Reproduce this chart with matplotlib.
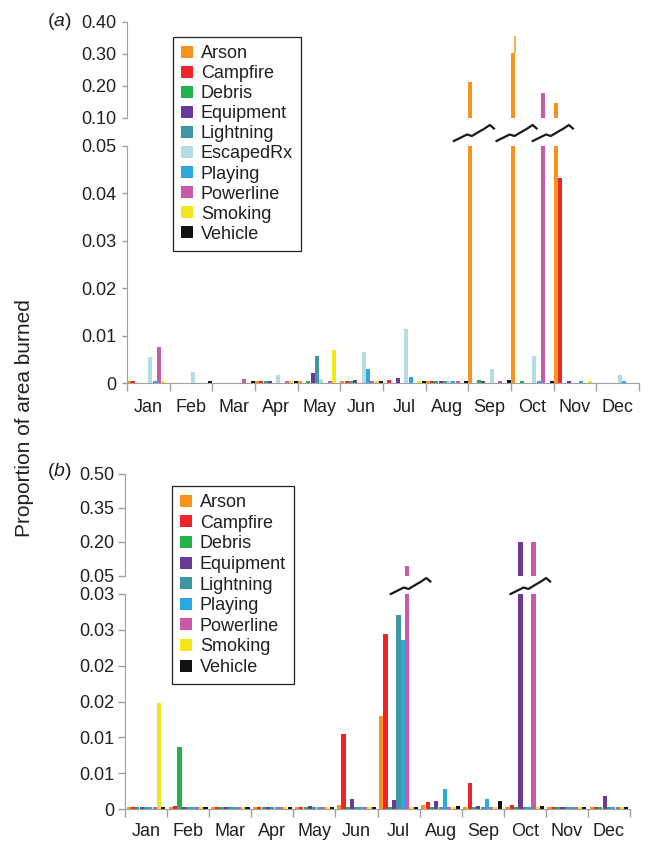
import matplotlib
matplotlib.use('Agg')
import matplotlib.pyplot as plt
import numpy as np
from matplotlib.patches import Patch
from matplotlib.lines import Line2D
from matplotlib.transforms import blended_transform_factory

plt.rcParams['font.family'] = ['Liberation Sans', 'DejaVu Sans']
plt.rcParams['mathtext.fontset'] = 'custom'
plt.rcParams['mathtext.rm'] = 'Liberation Sans'
plt.rcParams['mathtext.it'] = 'Liberation Sans:italic'

# ---------------- data ----------------
months = ['Jan', 'Feb', 'Mar', 'Apr', 'May', 'Jun', 'Jul', 'Aug', 'Sep', 'Oct', 'Nov', 'Dec']

causes_a = ['Arson', 'Campfire', 'Debris', 'Equipment', 'Lightning', 'EscapedRx',
            'Playing', 'Powerline', 'Smoking', 'Vehicle']
causes_b = ['Arson', 'Campfire', 'Debris', 'Equipment', 'Lightning',
            'Playing', 'Powerline', 'Smoking', 'Vehicle']

colors = {
    'Arson': '#F7941E', 'Campfire': '#EE2429', 'Debris': '#22B24C',
    'Equipment': '#6A3A96', 'Lightning': '#3D96A2', 'EscapedRx': '#B3DCE5',
    'Playing': '#29A9E0', 'Powerline': '#C85AA8', 'Smoking': '#F2E61B',
    'Vehicle': '#111111',
}

# panel (a)
a_arson     = [0.0004, 0, 0, 0.0004, 0.0004, 0.0004, 0, 0.0004, 0.213, 0.302, 0.148, 0]
a_campfire  = [0.0004, 0, 0, 0.0004, 0, 0.0004, 0.0007, 0.0004, 0, 0, 0.0432, 0]
a_debris    = [0, 0, 0, 0.0004, 0.0004, 0.0004, 0, 0.0004, 0.0007, 0.0004, 0, 0]
a_equipment = [0, 0, 0, 0.0004, 0.0021, 0.0007, 0.0011, 0.0004, 0.0004, 0, 0.0004, 0]
a_lightning = [0, 0, 0, 0, 0.0056, 0, 0, 0.0004, 0, 0, 0, 0]
a_escapedrx = [0.0054, 0.0023, 0, 0.0016, 0.0009, 0.0066, 0.0114, 0.0005, 0.0030, 0.0057, 0, 0.0017]
a_playing   = [0.0004, 0, 0, 0, 0, 0.0029, 0.0012, 0.0004, 0, 0.0004, 0.0004, 0.0004]
a_powerline = [0.0076, 0, 0.0009, 0.0004, 0.0004, 0.0004, 0, 0.0004, 0.0004, 0.179, 0, 0]
a_smoking   = [0.0005, 0, 0, 0.0004, 0.0069, 0.0004, 0.0004, 0, 0, 0, 0.0004, 0]
a_vehicle   = [0, 0.0005, 0.0004, 0.0004, 0, 0.0004, 0.0004, 0.0005, 0.0007, 0.0004, 0, 0]
a_arson_peak = [None, None, None, None, None, None, None, None, None, 0.355, None, None]

# panel (b)
s = 0.0003
b_arson     = [s, s, s, s, s, 0.0005, 0.0130, 0.0005, 0.0003, 0.0003, s, s]
b_campfire  = [s, 0.0004, s, s, s, 0.0104, 0.0244, 0.0010, 0.0036, 0.0005, s, s]
b_debris    = [s, 0.0086, s, s, s, s, s, s, s, s, s, s]
b_equipment = [s, s, s, s, 0.0004, 0.0014, 0.0012, 0.00105, 0.0004, 0.20, s, 0.00185]
b_lightning = [s, s, s, s, s, s, 0.0271, s, s, s, s, s]
b_playing   = [s, s, s, s, s, s, 0.0236, 0.0028, 0.0014, s, s, s]
b_powerline = [s, s, s, s, s, s, 0.094, s, s, 0.20, s, s]
b_smoking   = [0.0148, s, s, s, s, s, s, s, s, s, s, s]
b_vehicle   = [s, s, s, s, s, s, 0.0003, 0.0004, 0.00116, 0.0004, s, s]

a_upper_ticks = [0.10, 0.20, 0.30, 0.40]
a_upper_labels = ['0.10', '0.20', '0.30', '0.40']
a_lower_ticks = [0, 0.01, 0.02, 0.03, 0.04, 0.05]
a_lower_labels = ['0', '0.01', '0.02', '0.03', '0.04', '0.05']
b_upper_ticks = [0.05, 0.20, 0.35, 0.50]
b_upper_labels = ['0.05', '0.20', '0.35', '0.50']
b_lower_ticks = [0, 0.005, 0.010, 0.015, 0.020, 0.025, 0.030]
b_lower_labels = ['0', '0.01', '0.01', '0.02', '0.02', '0.03', '0.03']

series_a = [a_arson, a_campfire, a_debris, a_equipment, a_lightning, a_escapedrx,
            a_playing, a_powerline, a_smoking, a_vehicle]
series_b = [b_arson, b_campfire, b_debris, b_equipment, b_lightning,
            b_playing, b_powerline, b_smoking, b_vehicle]

# ---------------- layout ----------------
W, H = 650, 843
fig = plt.figure(figsize=(W / 100, H / 100), dpi=100)
TXT = '#231F20'
SPC = '#A0A0A0'


def fbox(x0, x1, ytop, ybot):
    return [x0 / W, 1 - ybot / H, (x1 - x0) / W, (ybot - ytop) / H]


# zigzag shape (relative x 0..1, y up in px)
zx = np.array([0, 0.33, 0.45, 0.66, 0.75, 0.9, 1.0])
zy = np.array([0, 6.5, 5, 10, 12, 16, 12.5])


def panel(xl, xr, up_top, up_bot, lo_top, lo_bot, causes, series, spacing, width,
          up_lim, lo_lim, up_ticks, up_labels, lo_ticks, lo_labels,
          tick_len, tick_pad, xpad, leg_xy, leg_spacing, letter, letter_xy, peak=None):
    axu = fig.add_axes(fbox(xl, xr, up_top, up_bot))
    axl = fig.add_axes(fbox(xl, xr, lo_top, lo_bot))
    n = len(causes)
    base = np.arange(12) + 0.5
    broken = []
    for j, (c, vals) in enumerate(zip(causes, series)):
        x = base + (j - (n - 1) / 2) * spacing
        for ax in (axu, axl):
            ax.bar(x, vals, width, color=colors[c], linewidth=0)
        for xi, v in zip(x, vals):
            if v > lo_lim[1]:
                broken.append(xi)
        if peak is not None and c == 'Arson':
            for xi, v, p in zip(x, vals, peak):
                if p is not None:
                    axu.vlines(xi + width / 2 - 0.012, v, p, color=colors[c], lw=1.1)
    for ax in (axu, axl):
        ax.set_xlim(0, 12)
        ax.spines['top'].set_visible(False)
        ax.spines['right'].set_visible(False)
        ax.spines['left'].set_color(SPC)
        ax.spines['bottom'].set_color(SPC)
        ax.tick_params(axis='y', colors=SPC, labelcolor=TXT, labelsize=13,
                       length=tick_len, pad=tick_pad, width=1)
        ax.set_facecolor('none')
    axu.set_ylim(*up_lim)
    axl.set_ylim(*lo_lim)
    axu.spines['bottom'].set_visible(False)
    axu.set_xticks([])
    axu.set_yticks(up_ticks)
    axu.set_yticklabels(up_labels)
    axl.set_yticks(lo_ticks)
    axl.set_yticklabels(lo_labels)
    axl.set_xticks(np.arange(13))
    axl.set_xticklabels([])
    axl.set_xticks(base, minor=True)
    axl.set_xticklabels(months, minor=True)
    axl.tick_params(axis='x', which='major', colors=SPC, length=5.5, width=1, direction='out')
    axl.tick_params(axis='x', which='minor', length=0, pad=xpad, labelsize=13, labelcolor=TXT)

    # break marks
    broken.sort()
    groups = []
    for b in broken:
        if groups and b - groups[-1][-1] < 0.45:
            groups[-1].append(b)
        else:
            groups.append([b])
    tr = blended_transform_factory(axl.transData, fig.transFigure)
    ycen = (up_bot + lo_top) / 2 + 1
    for g in groups:
        cx = np.mean(g) + 0.08
        xs = cx + (zx - 0.5) * 0.94
        ys = 1 - (ycen + 8 - zy) / H
        fig.add_artist(Line2D(xs, ys, transform=tr, color='white', lw=5, clip_on=False,
                              solid_capstyle='round'))
        fig.add_artist(Line2D(xs, ys, transform=tr, color='#1a1a1a', lw=1.6, clip_on=False))

    handles = [Patch(facecolor=colors[c], edgecolor='none', label=c) for c in causes]
    leg = fig.legend(handles=handles, loc='upper left',
                     bbox_to_anchor=(leg_xy[0] / W, 1 - leg_xy[1] / H),
                     bbox_transform=fig.transFigure, fontsize=13, frameon=True,
                     fancybox=False, framealpha=1, edgecolor='#222222',
                     handlelength=0.65, handleheight=0.65, handletextpad=0.45,
                     borderpad=0.45, labelspacing=leg_spacing, borderaxespad=0)
    leg.get_frame().set_linewidth(0.9)
    for t in leg.get_texts():
        t.set_color(TXT)
    fig.text(letter_xy[0] / W, 1 - letter_xy[1] / H, r'$(\mathit{%s})$' % letter,
             fontsize=14, color=TXT, ha='center', va='center')


panel(127, 639, 22, 118, 146, 383, causes_a, series_a, 0.1, 0.095,
      (0.10, 0.40), (0, 0.05), a_upper_ticks, a_upper_labels, a_lower_ticks, a_lower_labels,
      3.3, 4.5, 11.5, (173, 37), 0.17, 'a', (59, 21), peak=a_arson_peak)

panel(125, 630, 474, 576, 594, 809, causes_b, series_b, 0.103, 0.1,
      (0.05, 0.50), (0, 0.030), b_upper_ticks, b_upper_labels, b_lower_ticks, b_lower_labels,
      5.0, 2.5, 10.0, (172, 486), 0.2, 'b', (59, 472))

fig.text(25 / W, 1 - 418 / H, 'Proportion of area burned', rotation=90,
         fontsize=15, color=TXT, ha='center', va='center')

fig.savefig('out.png', dpi=100, facecolor='white')
